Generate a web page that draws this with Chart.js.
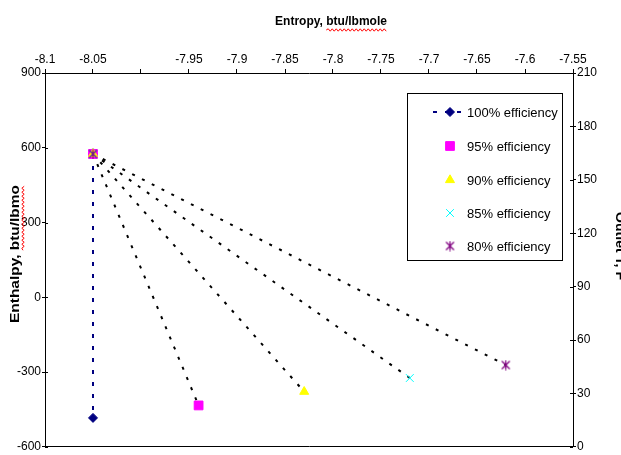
<!DOCTYPE html>
<html>
<head>
<meta charset="utf-8">
<script src="https://cdn.jsdelivr.net/npm/chart.js"></script>
<style>
  html, body { margin: 0; padding: 0; background: #fff; overflow: hidden; }
  #wrap { width: 621px; height: 455px; position: relative; }
</style>
</head>
<body>
<div id="wrap"><canvas id="c" width="621" height="455"></canvas></div>
<script>
// Compressor outlet states for several isentropic efficiencies
const seriesNames = ['100% efficiency', '95% efficiency', '90% efficiency', '85% efficiency', '80% efficiency'];
const inletEntropy = -8.05;   // btu/lbmole
const inletEnthalpy = 575;    // btu/lbmole
const outletEntropy = [-8.05, -7.94, -7.83, -7.72, -7.62];
const outletEnthalpy = [-484, -434, -379, -324, -272];

// Axis ticks
const entropyTicks = [-8.1, -8.05, -8.0, -7.95, -7.9, -7.85, -7.8, -7.75, -7.7, -7.65, -7.6, -7.55];
const entropyTickLabels = ['-8.1', '-8.05', '', '-7.95', '-7.9', '-7.85', '-7.8', '-7.75', '-7.7', '-7.65', '-7.6', '-7.55'];
const enthalpyTicks = [-600, -300, 0, 300, 600, 900];
const outletTTicks = [0, 30, 60, 90, 120, 150, 180, 210];

const FONT = "'Liberation Sans', Arial, sans-serif";

function asteriskMarker(color) {
  const c = document.createElement('canvas');
  c.width = 11; c.height = 11;
  const g = c.getContext('2d');
  g.strokeStyle = color;
  g.lineWidth = 1.2;
  g.beginPath();
  g.moveTo(1.5, 1.5); g.lineTo(9.5, 9.5);
  g.moveTo(9.5, 1.5); g.lineTo(1.5, 9.5);
  g.moveTo(5.5, 0.5); g.lineTo(5.5, 10.5);
  g.stroke();
  return c;
}

const pt = (x, y) => ({ x, y });

const markerSets = [
  { color: '#000080', style: 'rectRot', radius: 4.5, border: 1 },
  { color: '#ff00ff', style: 'rect', radius: 6.2, border: 1 },
  { color: '#ffff00', style: 'triangle', radius: 5.2, border: 1 },
  { color: '#00ffff', style: 'crossRot', radius: 5.5, border: 1 },
  { color: '#800080', style: asteriskMarker('#800080'), radius: 5.5, border: 1 }
];

const datasets = [];
// Black dotted paths from the inlet state to each non-ideal outlet state
for (let i = 1; i < seriesNames.length; i++) {
  datasets.push({
    label: '',
    data: [pt(inletEntropy, inletEnthalpy), pt(outletEntropy[i], outletEnthalpy[i])],
    showLine: true,
    borderColor: '#000',
    borderWidth: 2,
    borderDash: [3, 8],
    pointRadius: 0,
    pointHoverRadius: 0,
    order: 10
  });
}
// Efficiency series: inlet and outlet markers
seriesNames.forEach((name, i) => {
  const m = markerSets[i];
  datasets.push({
    label: name,
    data: [pt(inletEntropy, inletEnthalpy), pt(outletEntropy[i], outletEnthalpy[i])],
    showLine: i === 0,
    borderColor: m.color,
    backgroundColor: m.color,
    borderWidth: 2,
    borderDash: [4, 8],
    pointStyle: m.style,
    pointRadius: m.radius,
    pointHoverRadius: m.radius,
    pointBorderWidth: m.border,
    pointBackgroundColor: m.color,
    pointBorderColor: m.color,
    order: 5 - i
  });
});

function wavy(ctx, x0, x1, y) {
  ctx.save();
  ctx.strokeStyle = '#ff0000';
  ctx.lineWidth = 1;
  ctx.beginPath();
  let up = true;
  ctx.moveTo(x0, y);
  for (let x = x0 + 2; x <= x1; x += 2) {
    ctx.lineTo(x, y + (up ? -1.2 : 1.2));
    up = !up;
  }
  ctx.stroke();
  ctx.restore();
}

// Axis titles drawn at fixed spots around the plot
const axisTitles = {
  id: 'axisTitles',
  afterDraw(chart) {
    const ctx = chart.ctx;
    ctx.save();
    ctx.fillStyle = '#000';
    ctx.font = 'bold 12px ' + FONT;
    ctx.textBaseline = 'middle';
    ctx.textAlign = 'center';

    // Top title
    const top = 'Entropy, btu/lbmole';
    const tx = 331, ty = 22;
    ctx.fillText(top, tx, ty);
    const W = ctx.measureText(top).width;
    const w0 = ctx.measureText('Entropy, ').width;
    wavy(ctx, tx - W / 2 + w0, tx + W / 2, ty + 8);

    // Left title
    const left = 'Enthalpy, btu/lbmo';
    ctx.save();
    ctx.translate(16, 254);
    ctx.rotate(-Math.PI / 2);
    const LW = ctx.measureText(left).width;
    const ls = 138 / LW;
    ctx.scale(ls, 1);
    ctx.fillText(left, 0, 0);
    const lw0 = ctx.measureText('Enthalpy, ').width;
    ctx.restore();
    ctx.save();
    ctx.translate(16, 254);
    ctx.rotate(-Math.PI / 2);
    wavy(ctx, (-LW / 2 + lw0) * ls, (LW / 2) * ls, 7);
    ctx.restore();

    // Right title
    const right = 'Outlet T, F';
    ctx.save();
    ctx.translate(619, 246);
    ctx.rotate(Math.PI / 2);
    const RW = ctx.measureText(right).width;
    ctx.scale(68 / RW, 1);
    ctx.fillText(right, 0, 0);
    ctx.restore();
    ctx.restore();
  }
};

// Inner halves of the tick marks on the vertical axes
const innerTicks = {
  id: 'innerTicks',
  afterDraw(chart) {
    const ctx = chart.ctx;
    const { y, y2 } = chart.scales;
    ctx.save();
    ctx.strokeStyle = '#000';
    ctx.lineWidth = 1;
    ctx.beginPath();
    y.ticks.forEach(t => {
      const py = Math.round(y.getPixelForValue(t.value)) + 0.5;
      ctx.moveTo(y.right, py); ctx.lineTo(y.right + 3, py);
    });
    y2.ticks.forEach(t => {
      const py = Math.round(y2.getPixelForValue(t.value)) + 0.5;
      ctx.moveTo(y2.left - 3, py); ctx.lineTo(y2.left, py);
    });
    ctx.stroke();
    ctx.restore();
  }
};

// Legend box inside the plot
const legendBox = {
  id: 'legendBox',
  afterDraw(chart) {
    const ctx = chart.ctx;
    const bx = 407.5, by = 93.5, bw = 155, bh = 167;
    ctx.save();
    ctx.fillStyle = '#fff';
    ctx.fillRect(bx, by, bw, bh);
    ctx.strokeStyle = '#000';
    ctx.lineWidth = 1;
    ctx.strokeRect(bx, by, bw, bh);
    const rowsY = [112, 146, 180, 213, 246];
    const mx = 450;
    ctx.font = '13px ' + FONT;
    ctx.textBaseline = 'middle';
    ctx.textAlign = 'left';
    seriesNames.forEach((name, i) => {
      const m = markerSets[i];
      const yy = rowsY[i];
      if (i === 0) {
        ctx.save();
        ctx.strokeStyle = m.color;
        ctx.lineWidth = 2;
        ctx.setLineDash([4, 8]);
        ctx.beginPath();
        ctx.moveTo(433, yy); ctx.lineTo(462, yy);
        ctx.stroke();
        ctx.restore();
      }
      ctx.save();
      ctx.fillStyle = m.color;
      ctx.strokeStyle = m.color;
      ctx.lineWidth = m.border;
      Chart.helpers.drawPoint(ctx, { pointStyle: m.style, radius: m.radius, rotation: 0, borderWidth: m.border }, mx, yy);
      ctx.restore();
      ctx.fillStyle = '#000';
      ctx.fillText(name, 467, yy + 1);
    });
    ctx.restore();
  }
};

new Chart(document.getElementById('c'), {
  type: 'scatter',
  data: { datasets },
  options: {
    responsive: false,
    animation: false,
    events: [],
    layout: { padding: { left: 0, right: 0, top: 0, bottom: 7 } },
    plugins: { legend: { display: false }, tooltip: { enabled: false } },
    scales: {
      x: {
        type: 'linear', position: 'top', min: -8.1, max: -7.55,
        afterBuildTicks: s => { s.ticks = entropyTicks.map(v => ({ value: v })); },
        ticks: {
          callback: (v, i) => entropyTickLabels[i],
          autoSkip: false, maxRotation: 0, padding: 2,
          font: { family: FONT, size: 12 }, color: '#000'
        },
        grid: { drawOnChartArea: false, tickLength: 4, color: '#000' },
        border: { color: '#000', width: 1 },
        afterFit: s => { s.height = 73; }
      },
      xb: {
        type: 'linear', position: 'bottom', min: -8.1, max: -7.55,
        ticks: { display: false },
        grid: { display: false },
        border: { color: '#000', width: 1 },
        afterFit: s => { s.height = 0; }
      },
      y: {
        type: 'linear', position: 'left', min: -600, max: 900,
        afterBuildTicks: s => { s.ticks = enthalpyTicks.map(v => ({ value: v })); },
        ticks: { padding: 1, font: { family: FONT, size: 12 }, color: '#000' },
        grid: { drawOnChartArea: false, tickLength: 3, color: '#000' },
        border: { color: '#000', width: 1 },
        afterFit: s => { s.width = 45; }
      },
      y2: {
        type: 'linear', position: 'right', min: 0, max: 210,
        afterBuildTicks: s => { s.ticks = outletTTicks.map(v => ({ value: v })); },
        ticks: { padding: 1, font: { family: FONT, size: 12 }, color: '#000' },
        grid: { drawOnChartArea: false, tickLength: 3, color: '#000' },
        border: { color: '#000', width: 1 },
        afterFit: s => { s.width = 48; }
      }
    }
  },
  plugins: [innerTicks, legendBox, axisTitles]
});
</script>
</body>
</html>
